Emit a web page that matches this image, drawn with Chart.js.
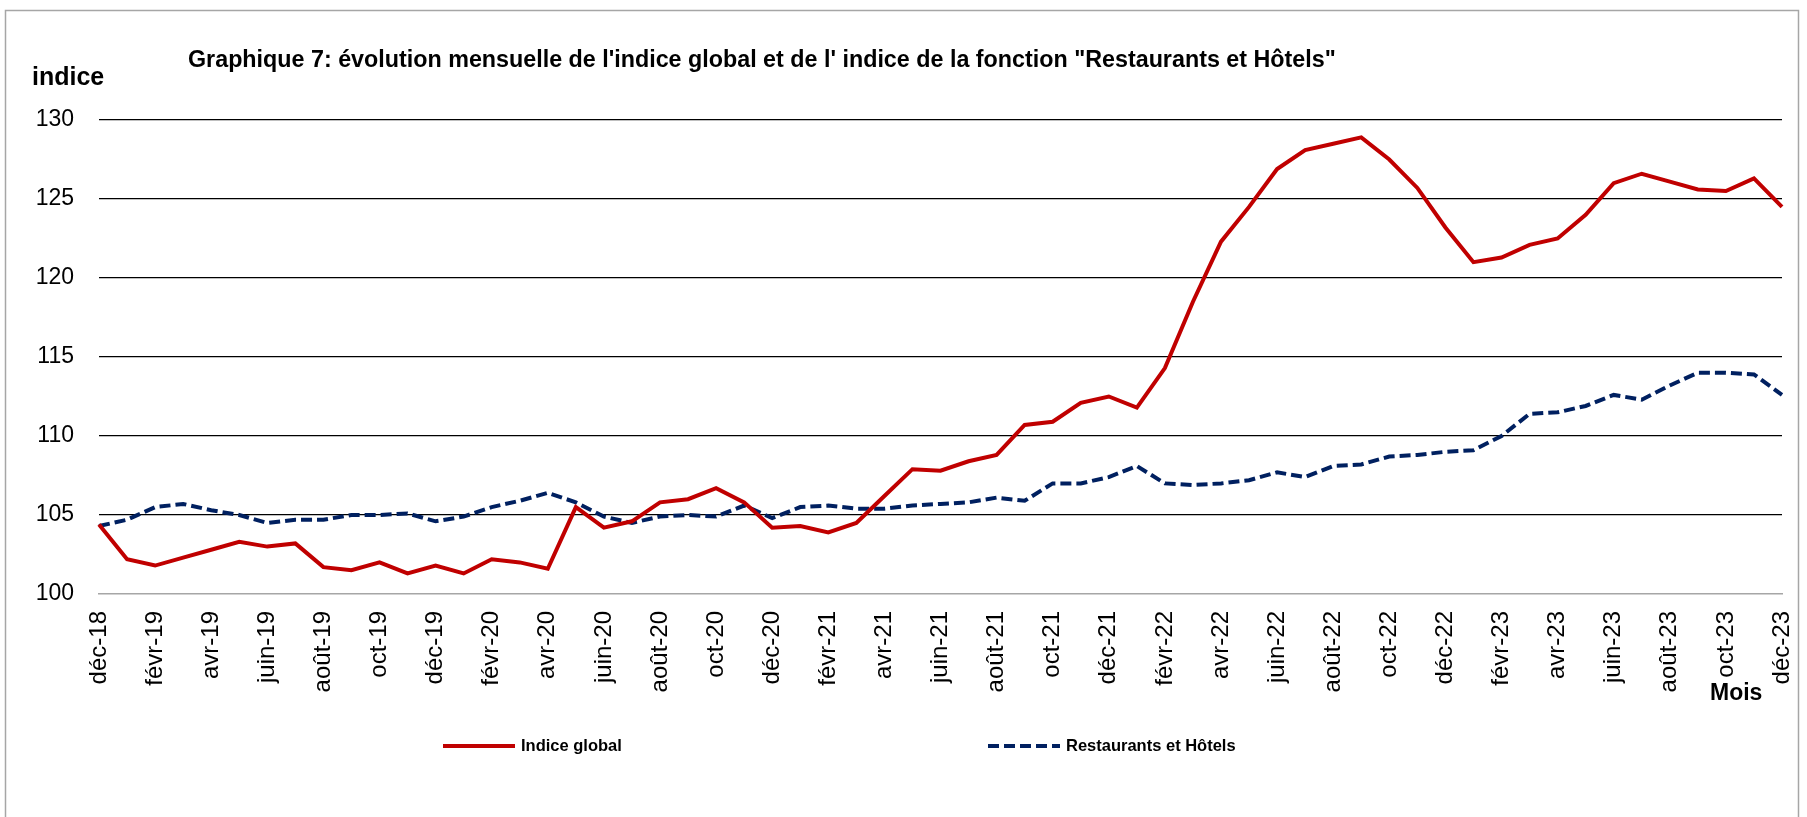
<!DOCTYPE html>
<html lang="fr">
<head>
<meta charset="utf-8">
<title>Graphique 7</title>
<script src="https://cdn.jsdelivr.net/npm/chart.js@4.4.1/dist/chart.umd.min.js"></script>
<style>
  html, body { margin: 0; padding: 0; background: #fff; }
  canvas { display: block; }
</style>
</head>
<body>
<canvas id="chart" width="1807" height="817"></canvas>
<script>
const mois = [
  "déc-18",
  "janv-19", "févr-19", "mars-19", "avr-19", "mai-19", "juin-19", "juil-19", "août-19", "sept-19", "oct-19", "nov-19", "déc-19",
  "janv-20", "févr-20", "mars-20", "avr-20", "mai-20", "juin-20", "juil-20", "août-20", "sept-20", "oct-20", "nov-20", "déc-20",
  "janv-21", "févr-21", "mars-21", "avr-21", "mai-21", "juin-21", "juil-21", "août-21", "sept-21", "oct-21", "nov-21", "déc-21",
  "janv-22", "févr-22", "mars-22", "avr-22", "mai-22", "juin-22", "juil-22", "août-22", "sept-22", "oct-22", "nov-22", "déc-22",
  "janv-23", "févr-23", "mars-23", "avr-23", "mai-23", "juin-23", "juil-23", "août-23", "sept-23", "oct-23", "nov-23", "déc-23"
];

const indiceGlobal = [
  104.4,
  102.2, 101.8, 102.3, 102.8, 103.3, 103.0, 103.2, 101.7, 101.5, 102.0, 101.3, 101.8,
  101.3, 102.2, 102.0, 101.6, 105.5, 104.2, 104.6, 105.8, 106.0, 106.7, 105.8, 104.2,
  104.3, 103.9, 104.5, 106.2, 107.9, 107.8, 108.4, 108.8, 110.7, 110.9, 112.1, 112.5,
  111.8, 114.3, 118.5, 122.3, 124.5, 126.9, 128.1, 128.5, 128.9, 127.5, 125.7, 123.2,
  121.0, 121.3, 122.1, 122.5, 124.0, 126.0, 126.6, 126.1, 125.6, 125.5, 126.3, 124.5
];

const restaurantsHotels = [
  104.3,
  104.7, 105.5, 105.7, 105.3, 105.0, 104.5, 104.7, 104.7, 105.0, 105.0, 105.1, 104.6,
  104.9, 105.5, 105.9, 106.4, 105.8, 104.9, 104.5, 104.9, 105.0, 104.9, 105.6, 104.8,
  105.5, 105.6, 105.4, 105.4, 105.6, 105.7, 105.8, 106.1, 105.9, 107.0, 107.0, 107.4,
  108.1, 107.0, 106.9, 107.0, 107.2, 107.7, 107.4, 108.1, 108.2, 108.7, 108.8, 109.0,
  109.1, 110.0, 111.4, 111.5, 111.9, 112.6, 112.3, 113.2, 114.0, 114.0, 113.9, 112.6
];

const yMin = 100, yMax = 130, yStep = 5;

const titre = "Graphique 7: évolution mensuelle de l'indice global et de l' indice de la fonction \"Restaurants et Hôtels\"";
const police = '"Liberation Sans", Arial, sans-serif';

// cadre, titre, libellés d'axes et légende
const decorPlugin = {
  id: 'decor',
  beforeDraw(chart) {
    const ctx = chart.ctx;
    ctx.save();
    ctx.strokeStyle = '#a6a6a6';
    ctx.lineWidth = 1.5;
    ctx.strokeRect(5.5, 10.5, 1793, 830);
    ctx.restore();
  },
  afterDraw(chart) {
    const ctx = chart.ctx;
    ctx.save();
    ctx.fillStyle = '#000';
    ctx.textBaseline = 'middle';
    ctx.textAlign = 'left';
    ctx.font = 'bold 23.3px ' + police;
    ctx.fillText(titre, 188, 61);
    ctx.font = 'bold 25px ' + police;
    ctx.fillText('indice', 32, 78);
    ctx.font = 'bold 23px ' + police;
    ctx.fillText('Mois', 1710, 694);

    const legendX = [443, 988];
    const y = 746;
    chart.data.datasets.forEach((ds, i) => {
      const x = legendX[i];
      ctx.strokeStyle = ds.borderColor;
      ctx.lineWidth = ds.borderWidth;
      ctx.setLineDash(ds.borderDash || []);
      ctx.beginPath();
      ctx.moveTo(x, y);
      ctx.lineTo(x + 72, y);
      ctx.stroke();
      ctx.setLineDash([]);
      ctx.font = 'bold 16.5px ' + police;
      ctx.fillText(ds.label, x + 78, y);
    });
    ctx.restore();
  }
};

new Chart(document.getElementById('chart'), {
  type: 'line',
  data: {
    labels: mois,
    datasets: [
      {
        label: 'Indice global',
        data: indiceGlobal,
        borderColor: '#c00000',
        backgroundColor: '#c00000',
        borderWidth: 4,
        pointRadius: 0,
        tension: 0
      },
      {
        label: 'Restaurants et Hôtels',
        data: restaurantsHotels,
        borderColor: '#002060',
        backgroundColor: '#002060',
        borderWidth: 4,
        borderDash: [11, 5],
        pointRadius: 0,
        tension: 0
      }
    ]
  },
  options: {
    responsive: false,
    animation: false,
    layout: { padding: { top: 120, left: 0, right: 25, bottom: 0 } },
    plugins: {
      legend: { display: false },
      title: { display: false },
      tooltip: { enabled: false }
    },
    scales: {
      x: {
        afterFit(scale) {
          scale.height = 223;
          scale.paddingLeft = 0;
          scale.paddingRight = 0;
        },
        grid: { display: false, drawTicks: false },
        border: { display: true, color: '#a6a6a6', width: 1.5 },
        ticks: {
          autoSkip: false,
          maxRotation: 90,
          minRotation: 90,
          padding: 17,
          color: '#000',
          font: { family: police, size: 24 },
          callback: function (value, index) {
            return index % 2 === 0 ? this.getLabelForValue(value) : '';
          }
        }
      },
      y: {
        min: yMin,
        max: yMax,
        afterFit(scale) { scale.width = 99; },
        border: { display: false },
        grid: {
          drawTicks: false,
          lineWidth: 1.3,
          color: ctx => ctx.tick && ctx.tick.value === yMin ? 'rgba(0,0,0,0)' : '#000'
        },
        ticks: {
          stepSize: yStep,
          padding: 25,
          color: '#000',
          font: { family: police, size: 23 }
        }
      }
    }
  },
  plugins: [decorPlugin]
});
</script>
</body>
</html>
